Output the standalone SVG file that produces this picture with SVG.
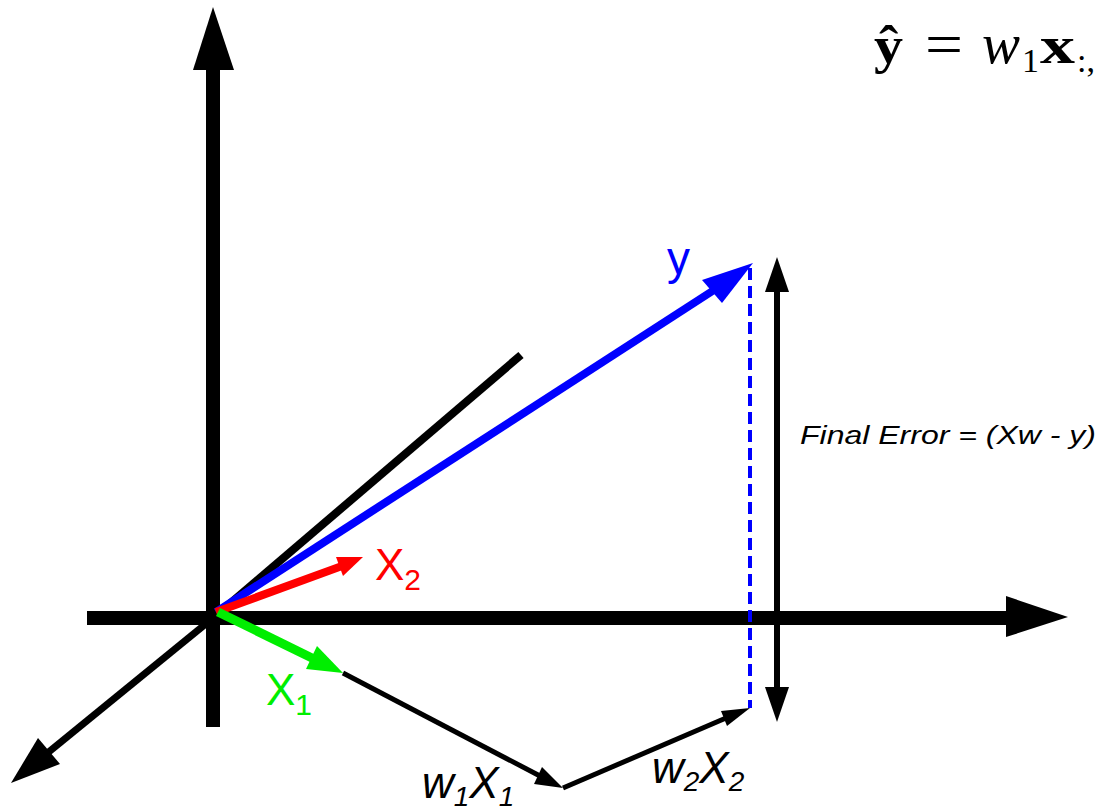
<svg xmlns="http://www.w3.org/2000/svg" width="1099" height="810" viewBox="0 0 1099 810">
<style>
.lbl{font-family:"Liberation Sans",Arial,sans-serif}
.it{font-family:"Liberation Sans",Arial,sans-serif;font-style:italic}
.ser{font-family:"Liberation Serif","Times New Roman",serif}
</style>
<rect width="1099" height="810" fill="#fff"/>
<g id="connectors">
  <g id="axis-vertical">
    <line x1="213" y1="727" x2="213" y2="66" stroke="#000" stroke-width="14"/>
    <polygon points="213,7 193,70 234,70" fill="#000"/>
  </g>
  <g id="axis-horizontal">
    <line x1="87" y1="618" x2="1010" y2="618" stroke="#000" stroke-width="14"/>
    <polygon points="1068,617 1006,596 1006,637" fill="#000"/>
  </g>
  <g id="axis-depth">
    <line x1="213" y1="618" x2="45" y2="755" stroke="#000" stroke-width="7"/>
    <polygon points="11,783 38,738 60,764" fill="#000"/>
  </g>
  <g id="plane-line">
    <line x1="213" y1="618" x2="521" y2="355" stroke="#000" stroke-width="8"/>
  </g>
  <g id="vec-y">
    <line x1="216" y1="612" x2="714" y2="290" stroke="#0000ff" stroke-width="8"/>
    <polygon points="753,263 702,280 722,303" fill="#0000ff"/>
  </g>
  <g id="vec-x2">
    <line x1="216" y1="612" x2="342" y2="566" stroke="#ff0000" stroke-width="8"/>
    <polygon points="363,557 336,557 343,576" fill="#ff0000"/>
  </g>
  <g id="vec-x1">
    <line x1="218" y1="612" x2="314" y2="659" stroke="#00ee00" stroke-width="9"/>
    <polygon points="343,673 317,646 306,669" fill="#00ee00"/>
  </g>
  <g id="vec-w1x1">
    <line x1="343" y1="673" x2="540" y2="776" stroke="#000" stroke-width="5"/>
    <polygon points="563,788 542,767 534,784" fill="#000"/>
  </g>
  <g id="vec-w2x2">
    <line x1="563" y1="788" x2="726" y2="718" stroke="#000" stroke-width="5"/>
    <polygon points="750,708 721,711 727,726" fill="#000"/>
  </g>
  <g id="error-dashed">
    <line x1="750" y1="268" x2="750" y2="708" stroke="#0000ff" stroke-width="4" stroke-dasharray="12 6"/>
  </g>
  <g id="error-arrow">
    <line x1="777" y1="285" x2="777" y2="695" stroke="#000" stroke-width="6"/>
    <polygon points="777,257 765,292 789,292" fill="#000"/>
    <polygon points="777,722 765,687 789,687" fill="#000"/>
  </g>
</g>
<g id="label-y">
  <text class="lbl" x="667" y="274" font-size="46" fill="#0000ff">y</text>
</g>
<g id="label-x2">
  <text class="lbl" x="375" y="580" font-size="44" fill="#ff0000">X<tspan font-size="30" dy="10">2</tspan></text>
</g>
<g id="label-x1">
  <text class="lbl" x="266" y="705" font-size="44" fill="#00ee00">X<tspan font-size="30" dy="10">1</tspan></text>
</g>
<g id="label-w1x1">
  <text class="it" x="422" y="798" font-size="44" fill="#000">w<tspan font-size="28" dy="8">1</tspan><tspan dy="-8">X</tspan><tspan font-size="28" dy="8">1</tspan></text>
</g>
<g id="label-w2x2">
  <text class="it" x="652" y="783" font-size="44" fill="#000">w<tspan font-size="28" dy="8">2</tspan><tspan dy="-8">X</tspan><tspan font-size="28" dy="8">2</tspan></text>
</g>
<g id="label-error">
  <text class="it" x="800" y="444" font-size="25" fill="#000" textLength="296" lengthAdjust="spacingAndGlyphs">Final Error = (Xw - y)</text>
</g>
<g id="formula">
  <text class="ser" x="874" y="63" font-size="52" font-weight="bold" textLength="29" lengthAdjust="spacingAndGlyphs">ŷ</text>
  <text class="ser" x="925" y="64" font-size="60" textLength="38" lengthAdjust="spacingAndGlyphs">=</text>
  <text class="ser" x="982" y="63" font-size="56" font-style="italic" textLength="38" lengthAdjust="spacingAndGlyphs">w</text>
  <text class="ser" x="1022" y="72" font-size="34">1</text>
  <text class="ser" x="1040" y="63" font-size="52" font-weight="bold" textLength="35" lengthAdjust="spacingAndGlyphs">x</text>
  <text class="ser" x="1077" y="72" font-size="34">:,</text>
</g>
</svg>
